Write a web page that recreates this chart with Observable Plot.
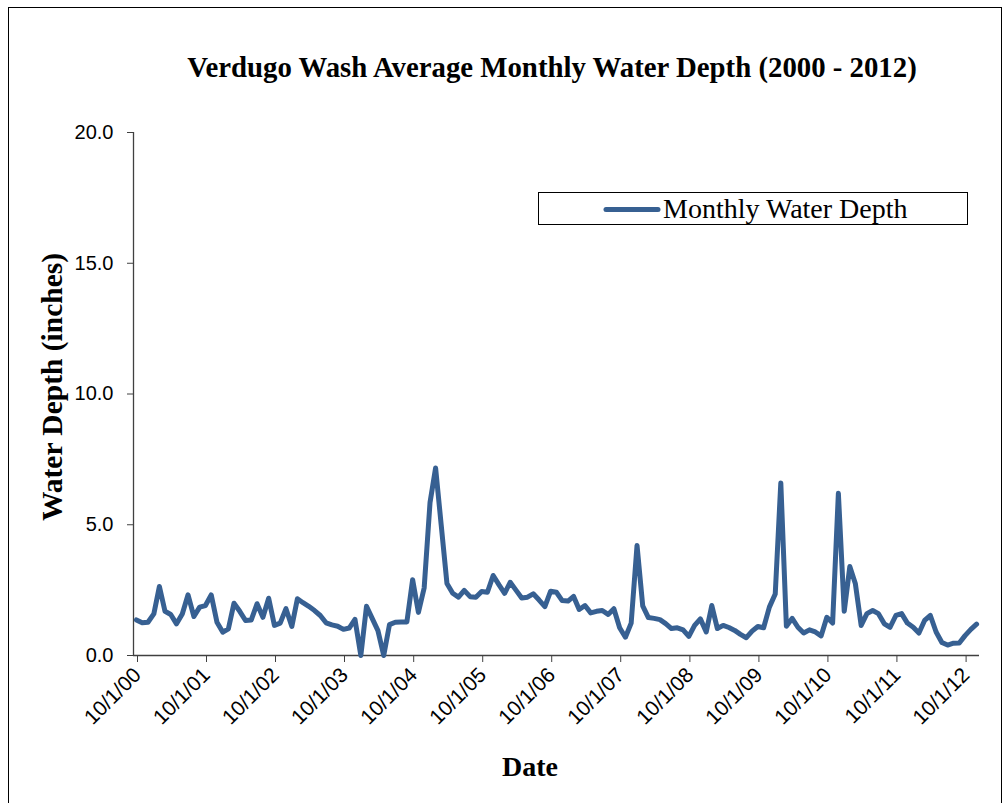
<!DOCTYPE html>
<html>
<head>
<meta charset="utf-8">
<script src="https://cdn.jsdelivr.net/npm/d3@7"></script>
<script src="https://cdn.jsdelivr.net/npm/@observablehq/plot@0.6"></script>
<style>
  html, body { margin: 0; padding: 0; background: #fff; }
  #wrap { position: relative; width: 1005px; height: 803px; overflow: hidden; background: #fff; }
  #frame { position: absolute; left: 8px; top: 7px; width: 994px; height: 810px; border: 1px solid #000; box-sizing: border-box; }
  #chart { position: absolute; left: 0; top: 0; }
  .serif { font-family: "Liberation Serif", "DejaVu Serif", serif; color: #000; position: absolute; white-space: nowrap; }
  #title { left: 552px; top: 67px; transform: translate(-50%, -50%); font-weight: bold; font-size: 28.8px; }
  #ylabel { left: 52px; top: 387px; transform: translate(-50%, -50%) rotate(-90deg); font-weight: bold; font-size: 29.5px; }
  #xlabel { left: 530px; top: 767px; transform: translate(-50%, -50%); font-weight: bold; font-size: 28px; }
  #legend { position: absolute; left: 538px; top: 192px; width: 430px; height: 33px; border: 1px solid #000; box-sizing: border-box; background: #fff; }
  #legend svg { position: absolute; left: 0; top: 0; }
  #legend .lt { left: 124px; top: 16px; transform: translateY(-50%); font-size: 28px; }
</style>
</head>
<body>
<div id="wrap">
  <div id="frame"></div>
  <div id="chart"></div>
  <div id="title" class="serif">Verdugo Wash Average Monthly Water Depth (2000 - 2012)</div>
  <div id="ylabel" class="serif">Water Depth (inches)</div>
  <div id="xlabel" class="serif">Date</div>
  <div id="legend">
    <svg width="430" height="33"><line x1="67" x2="119" y1="16.5" y2="16.5" stroke="#376092" stroke-width="5" stroke-linecap="round"/></svg>
    <div class="serif lt">Monthly Water Depth</div>
  </div>
</div>
<script>
// Series: monthly average water depth (inches), Oct 2000 – Dec 2012
const seriesName = "Monthly Water Depth";
const startMonth = "2000-10-01";
const depth = [
  1.36, 1.25, 1.27, 1.59, 2.64, 1.69, 1.57, 1.21, 1.59, 2.32, 1.49, 1.85,
  1.91, 2.32, 1.27, 0.89, 1.02, 2.00, 1.69, 1.34, 1.36, 1.98, 1.46, 2.19,
  1.15, 1.24, 1.79, 1.11, 2.17, 2.02, 1.88, 1.72, 1.53, 1.25, 1.17, 1.12,
  1.00, 1.05, 1.38, 0.00, 1.88, 1.42, 0.95, 0.00, 1.18, 1.27, 1.28, 1.28,
  2.90, 1.65, 2.58, 5.85, 7.17, 5.00, 2.75, 2.38, 2.23, 2.49, 2.25, 2.23,
  2.45, 2.42, 3.06, 2.70, 2.38, 2.80, 2.50, 2.20, 2.23, 2.36, 2.12, 1.87,
  2.46, 2.42, 2.10, 2.08, 2.26, 1.76, 1.91, 1.63, 1.69, 1.72, 1.57, 1.79,
  1.06, 0.70, 1.24, 4.21, 1.90, 1.45, 1.42, 1.37, 1.22, 1.03, 1.06, 0.98,
  0.73, 1.15, 1.40, 0.90, 1.91, 1.03, 1.15, 1.07, 0.96, 0.81, 0.68, 0.93,
  1.11, 1.06, 1.85, 2.35, 6.60, 1.12, 1.42, 1.08, 0.86, 0.98, 0.90, 0.75,
  1.46, 1.24, 6.20, 1.69, 3.40, 2.74, 1.15, 1.60, 1.72, 1.60, 1.21, 1.08,
  1.53, 1.60, 1.24, 1.08, 0.86, 1.34, 1.53, 0.90, 0.50, 0.40, 0.47, 0.48,
  0.76, 1.00, 1.20
];
// Axis ticks
const xTickLabels = ["10/1/00","10/1/01","10/1/02","10/1/03","10/1/04","10/1/05","10/1/06","10/1/07","10/1/08","10/1/09","10/1/10","10/1/11","10/1/12"];
const yTicks = [0, 5, 10, 15, 20];

const parseTick = d3.utcParse("%m/%d/%y");
const xTicks = xTickLabels.map(parseTick);
const start = new Date(startMonth + "T00:00:00Z");
const data = depth.map((v, i) => ({ date: d3.utcMonth.offset(start, i), depth: v, series: seriesName }));
// Each month occupies one slot on the date axis; the value is drawn at the slot centre
const slotCentre = d => new Date((d.date.getTime() + d3.utcMonth.offset(d.date, 1).getTime()) / 2);
const end = d3.utcMonth.offset(start, depth.length);

const lineColor = "#376092";
const axisColor = "#404040";

const plot = Plot.plot({
  width: 1005,
  height: 803,
  marginLeft: 133,
  marginRight: 26,
  marginTop: 132,
  marginBottom: 148,
  style: { fontFamily: "'Liberation Sans', Arial, sans-serif", fontSize: "20px", color: "#000", background: "transparent" },
  x: { type: "utc", domain: [start, end] },
  y: { domain: [0, 20] },
  marks: [
    Plot.ruleY([0], { stroke: axisColor, strokeWidth: 1.3 }),
    Plot.ruleX([start], { y1: 0, y2: 20, stroke: axisColor, strokeWidth: 1.3 }),
    Plot.axisY({ ticks: yTicks, tickFormat: d3.format(".1f"), tickSize: 6, tickPadding: 14, stroke: axisColor, label: null, fill: "#000" }),
    Plot.axisX({ ticks: xTicks, tickFormat: d3.utcFormat("%-m/%-d/%y"), tickSize: 7, tickPadding: 9, tickRotate: -45, dx: 4, fontSize: 21, stroke: axisColor, label: null, fill: "#000" }),
    Plot.line(data, { x: slotCentre, y: "depth", stroke: lineColor, strokeWidth: 5, strokeLinejoin: "round", strokeLinecap: "round" })
  ]
});
document.getElementById("chart").appendChild(plot);
</script>
</body>
</html>
